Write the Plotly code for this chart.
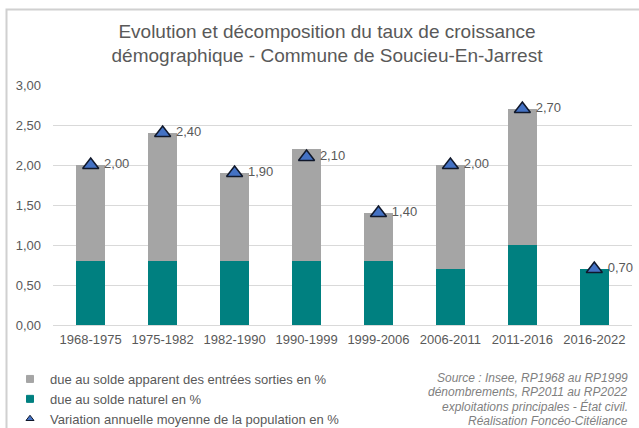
import plotly.graph_objects as go

periods = ["1968-1975", "1975-1982", "1982-1990", "1990-1999",
           "1999-2006", "2006-2011", "2011-2016", "2016-2022"]
natural = [0.80, 0.80, 0.80, 0.80, 0.80, 0.70, 1.00, 0.70]
migratory = [1.20, 1.60, 1.10, 1.40, 0.60, 1.30, 1.70, 0.00]
annual_variation = [2.00, 2.40, 1.90, 2.10, 1.40, 2.00, 2.70, 0.70]
y_ticks = [0, 0.5, 1.0, 1.5, 2.0, 2.5, 3.0]

name_mig = "due au solde apparent des entrées sorties en %"
name_nat = "due au solde naturel en %"
name_var = "Variation annuelle moyenne de la population en %"
source_lines = ["Source : Insee, RP1968 au RP1999",
                "dénombrements, RP2011 au RP2022",
                "exploitations principales - État civil.",
                "Réalisation Foncéo-Citéliance"]

W, H = 639, 428
L, R, T, B = 53, 7, 85, 103
PW, PH = W - L - R, H - T - B


def px_x(px):
    return (px - L) / PW


def px_y(py):
    return (H - B - py) / PH


FONT = "Liberation Sans, Arial, sans-serif"
TXT = "#595959"
GRAY = "#A5A5A5"
TEAL = "#008080"
TRI_FILL = "#4472C4"
TRI_LINE = "#10182B"
BORDER = "#D0D0D0"

fig = go.Figure()
fig.add_trace(go.Bar(
    x=periods, y=natural, name=name_nat, showlegend=False,
    marker=dict(color=TEAL, line=dict(width=0)),
))
fig.add_trace(go.Bar(
    x=periods, y=migratory, name=name_mig, showlegend=False,
    marker=dict(color=GRAY, line=dict(width=0)),
))
fig.add_trace(go.Scatter(
    x=periods, y=annual_variation, name=name_var, showlegend=False,
    mode="markers+text", cliponaxis=False,
    marker=dict(symbol="triangle-up", size=14, color=TRI_FILL,
                line=dict(color=TRI_LINE, width=1.5)),
    text=[" " + f"{v:.2f}".replace(".", ",") for v in annual_variation],
    textposition="middle right",
    textfont=dict(size=13, color=TXT, family=FONT),
))

# legend entries
for nm, sym, col, lc in [(name_mig, "square", GRAY, GRAY),
                         (name_nat, "square", TEAL, TEAL),
                         (name_var, "triangle-up", TRI_FILL, TRI_LINE)]:
    fig.add_trace(go.Scatter(
        x=[None], y=[None], name=nm, mode="markers",
        marker=dict(symbol=sym, size=7, color=col, line=dict(color=lc, width=1)),
        showlegend=True,
    ))

annotations = []
for i, line in enumerate(source_lines):
    annotations.append(dict(
        xref="paper", yref="paper", x=px_x(630), y=px_y(378 + i * 14.4),
        xanchor="right", yanchor="middle", showarrow=False,
        text=f"<i>{line}</i>",
        font=dict(size=12, color="#7F7F7F", family=FONT),
    ))

fig.update_layout(
    width=W, height=H,
    margin=dict(l=L, r=R, t=T, b=B, autoexpand=False),
    barmode="stack", bargap=0.6,
    separators=", ",
    paper_bgcolor="white", plot_bgcolor="white",
    font=dict(family=FONT, size=13, color=TXT),
    title=dict(
        text="Evolution et décomposition du taux de croissance<br>démographique - Commune de Soucieu-En-Jarrest",
        x=327 / W, xanchor="center", xref="container",
        y=1 - 37.5 / H, yanchor="top",
        font=dict(size=19, color=TXT, family=FONT),
    ),
    xaxis=dict(
        showgrid=False, showline=True, linecolor="#D9D9D9", linewidth=1,
        tickfont=dict(size=13, color=TXT), ticks="", ticklabelstandoff=2,
    ),
    yaxis=dict(
        range=[0, 3], tickvals=y_ticks, tickformat=".2f",
        showgrid=True, gridcolor="#D9D9D9", gridwidth=1,
        zeroline=False, showline=False, ticks="",
        tickfont=dict(size=13, color=TXT), ticklabelstandoff=11,
    ),
    showlegend=True,
    legend=dict(
        x=px_x(10), xanchor="left", y=px_y(364), yanchor="top",
        font=dict(size=13, color=TXT), traceorder="normal",
        bgcolor="rgba(0,0,0,0)", tracegroupgap=0,
    ),
    annotations=annotations,
    shapes=[
        dict(type="rect", xref="paper", yref="paper", layer="above",
             x0=px_x(6.5), x1=px_x(W + 5), y0=px_y(H + 5), y1=px_y(9.5),
             line=dict(color=BORDER, width=2), fillcolor="rgba(0,0,0,0)"),
    ],
)

fig.write_html("out.html",
               config={"displayModeBar": False},
               post_script="document.body.style.margin='0';document.body.style.padding='0';")
